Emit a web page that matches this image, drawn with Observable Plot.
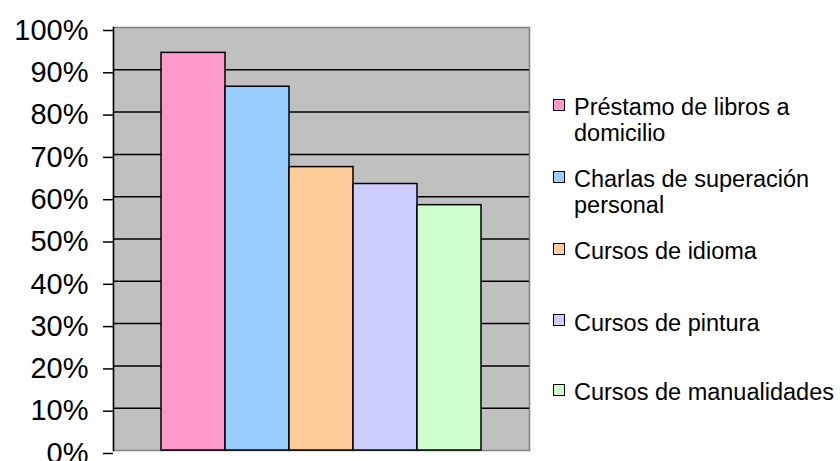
<!DOCTYPE html>
<html>
<head>
<meta charset="utf-8">
<script src="https://cdn.jsdelivr.net/npm/d3@7"></script>
<script src="https://cdn.jsdelivr.net/npm/@observablehq/plot@0.6"></script>
<style>
  html, body { margin: 0; padding: 0; background: white; overflow: hidden; }
  #wrap { position: relative; width: 840px; height: 461px; overflow: hidden; font-family: "Liberation Sans", Arial, sans-serif; }
  #chart { position: absolute; left: 0; top: 0; }
  .item { position: absolute; left: 553px; width: 287px; }
  .sw { position: absolute; left: 0; width: 12px; height: 12px; box-sizing: border-box; border: 1.5px solid black; }
  .lab { position: absolute; left: 21px; width: 266px; font-size: 23.5px; line-height: 26px; color: black; }
</style>
</head>
<body>
<div id="wrap"><div id="chart"></div><div id="legend"></div></div>
<script>
const categories = ["Préstamo de libros a domicilio", "Charlas de superación personal", "Cursos de idioma", "Cursos de pintura", "Cursos de manualidades"];
const values = [94, 86, 67, 63, 58];
const colors = ["#FF99CC", "#99CCFF", "#FFCC99", "#CCCCFF", "#CCFFCC"];
const yTicks = [0, 10, 20, 30, 40, 50, 60, 70, 80, 90, 100];
const gridTicks = [10, 20, 30, 40, 50, 60, 70, 80, 90];
const legendTops = [94, 166, 238, 309.5, 379];

const data = categories.map((name, i) => ({name, value: values[i]}));

const chart = Plot.plot({
  width: 548,
  height: 461,
  marginLeft: 113,
  marginRight: 19,
  marginTop: 27,
  marginBottom: 11,
  style: {fontFamily: "'Liberation Sans', Arial, sans-serif", fontSize: "29px", color: "black", background: "white"},
  x: {domain: categories, paddingInner: 0, paddingOuter: 0.75, axis: null},
  y: {domain: [0, 100], label: null},
  color: {domain: categories, range: colors},
  marks: [
    Plot.frame({fill: "#C0C0C0", stroke: "#808080", strokeWidth: 1.5}),
    Plot.ruleY(gridTicks, {stroke: "black", strokeWidth: 1.5}),
    Plot.barY(data, {x: "name", y: "value", fill: "name", stroke: "black", strokeWidth: 1.5}),
    Plot.frame({anchor: "left", stroke: "black", strokeWidth: 1.5}),
    Plot.axisY({ticks: yTicks, tickFormat: d => d + "%", label: null, tickSize: 10, tickPadding: 15, stroke: "black", strokeWidth: 1.5, strokeOpacity: 1, dy: 3, fontSize: 29})
  ]
});
document.getElementById("chart").appendChild(chart);

const legend = document.getElementById("legend");
categories.forEach((name, i) => {
  const item = document.createElement("div");
  item.className = "item";
  item.style.top = legendTops[i] + "px";
  const sw = document.createElement("div");
  sw.className = "sw";
  sw.style.top = "4.5px";
  sw.style.background = colors[i];
  const lab = document.createElement("div");
  lab.className = "lab";
  lab.style.top = "0px";
  lab.textContent = name;
  item.appendChild(sw);
  item.appendChild(lab);
  legend.appendChild(item);
});
</script>
</body>
</html>
